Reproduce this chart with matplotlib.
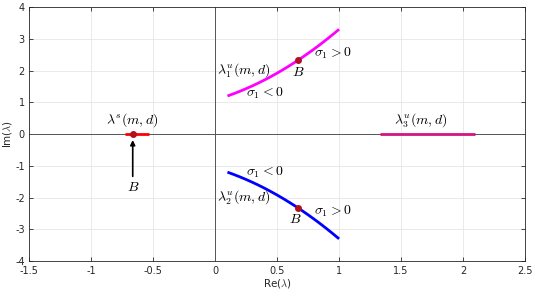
import matplotlib
matplotlib.use("Agg")
import matplotlib.pyplot as plt

plt.rcParams['mathtext.fontset'] = 'cm'

# Data
re_u1 = [0.10, 0.15, 0.20, 0.25, 0.30, 0.35, 0.40, 0.45, 0.50, 0.55,
         0.60, 0.65, 0.70, 0.75, 0.80, 0.85, 0.90, 0.95, 1.00]
im_u1 = [1.200, 1.271, 1.348, 1.430, 1.517, 1.609, 1.707, 1.811, 1.919, 2.033,
         2.153, 2.277, 2.407, 2.543, 2.683, 2.829, 2.981, 3.138, 3.300]
re_u2 = [0.10, 0.15, 0.20, 0.25, 0.30, 0.35, 0.40, 0.45, 0.50, 0.55,
         0.60, 0.65, 0.70, 0.75, 0.80, 0.85, 0.90, 0.95, 1.00]
im_u2 = [-1.200, -1.271, -1.348, -1.430, -1.517, -1.609, -1.707, -1.811, -1.919, -2.033,
         -2.153, -2.277, -2.407, -2.543, -2.683, -2.829, -2.981, -3.138, -3.300]
re_s = [-0.73, -0.53]
im_s = [0.0, 0.0]
re_u3 = [1.33, 2.10]
im_u3 = [0.0, 0.0]
B_re = [-0.664, 0.667, 0.667]
B_im = [0.0, 2.32, -2.32]
xticks = [-1.5, -1, -0.5, 0, 0.5, 1, 1.5, 2, 2.5]
xtick_labels = ['-1.5', '-1', '-0.5', '0', '0.5', '1', '1.5', '2', '2.5']
yticks = [-4, -3, -2, -1, 0, 1, 2, 3, 4]
ytick_labels = ['-4', '-3', '-2', '-1', '0', '1', '2', '3', '4']

fig = plt.figure(figsize=(5.38, 2.95), dpi=100)
ax = fig.add_axes([0.054, 0.115, 0.922, 0.861])

ax.set_xlim(-1.5, 2.5)
ax.set_ylim(-4, 4)
ax.set_xticks(xticks)
ax.set_xticklabels(xtick_labels)
ax.set_yticks(yticks)
ax.set_yticklabels(ytick_labels)
ax.grid(True, color='#e6e6e6', linewidth=0.6)
ax.set_axisbelow(True)
ax.tick_params(direction='in', length=3, labelsize=7, colors='#262626',
               top=True, right=True, width=0.6)
ax.tick_params(axis='x', pad=3.5)
ax.tick_params(axis='y', pad=3)
for sp in ax.spines.values():
    sp.set_color('#262626')
    sp.set_linewidth(0.6)

ax.axhline(0, color='#555555', linewidth=0.7, zorder=1)
ax.axvline(0, color='#555555', linewidth=0.7, zorder=1)

ax.plot(re_u1, im_u1, color='#ff00ff', linewidth=2, zorder=3, solid_capstyle='butt')
ax.plot(re_u2, im_u2, color='#0000ff', linewidth=2, zorder=3, solid_capstyle='butt')
ax.plot(re_s, im_s, color='#ff0000', linewidth=2, zorder=3, solid_capstyle='butt')
ax.plot(re_u3, im_u3, color='#d4147f', linewidth=2, zorder=3, solid_capstyle='butt')
ax.plot(B_re, B_im, 'o', color='#b01020', markersize=4, zorder=4)

ax.annotate('', xy=(-0.664, -0.1), xytext=(-0.664, -1.42),
            arrowprops=dict(arrowstyle='-|>', color='black', lw=1.2, mutation_scale=7))

fs = 10
ax.text(-0.67, 0.44, r'$\lambda^s(m,d)$', ha='center', va='center', fontsize=fs)
ax.text(-0.66, -1.67, r'$B$', ha='center', va='center', fontsize=fs)
ax.text(0.23, 2.0, r'$\lambda_1^u(m,d)$', ha='center', va='center', fontsize=fs)
ax.text(0.40, 1.29, r'$\sigma_1 < 0$', ha='center', va='center', fontsize=fs)
ax.text(0.67, 1.95, r'$B$', ha='center', va='center', fontsize=fs)
ax.text(0.95, 2.55, r'$\sigma_1 > 0$', ha='center', va='center', fontsize=fs)
ax.text(1.66, 0.41, r'$\lambda_3^u(m,d)$', ha='center', va='center', fontsize=fs)
ax.text(0.40, -1.22, r'$\sigma_1 < 0$', ha='center', va='center', fontsize=fs)
ax.text(0.23, -2.0, r'$\lambda_2^u(m,d)$', ha='center', va='center', fontsize=fs)
ax.text(0.65, -2.68, r'$B$', ha='center', va='center', fontsize=fs)
ax.text(0.95, -2.43, r'$\sigma_1 > 0$', ha='center', va='center', fontsize=fs)

ax.set_xlabel('Re($\\lambda$)', fontsize=7.5, labelpad=1, color='#262626')
ax.set_ylabel('Im($\\lambda$)', fontsize=7.5, labelpad=1, color='#262626')

fig.savefig('out.png', dpi=100)
